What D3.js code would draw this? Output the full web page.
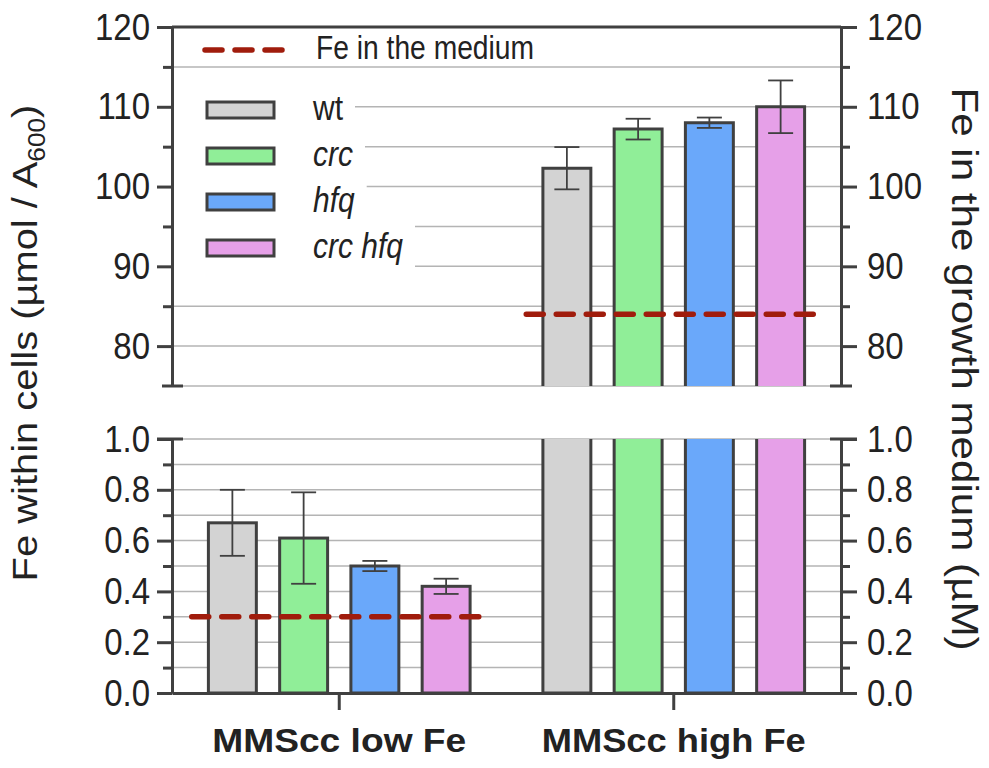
<html>
<head>
<style>
  body { margin: 0; background: #fff; }
  text { font-family: "Liberation Sans", Arial, sans-serif; fill: #222; }
</style>
</head>
<body>
<script src="https://d3js.org/d3.v7.min.js"></script>
<script>
var width = 989, height = 768;
var dark = "#404040", grid = "#b4b4b4", red = "#a01c0c";

// data
var categories = ["MMScc low Fe", "MMScc high Fe"];
var strains = ["wt", "crc", "hfq", "crc hfq"];
var colors = ["#d3d3d3", "#90ee98", "#6aa8fa", "#e6a0e8"];
var lowFe = [0.67, 0.61, 0.50, 0.42];
var lowFeErr = [0.13, 0.18, 0.02, 0.03];
var highFe = [102.3, 107.2, 108.0, 110.0];
var highFeErr = [2.65, 1.3, 0.65, 3.3];
var mediumFe = [0.3, 84];
var topTicks = [80, 90, 100, 110, 120];
var topMinor = [85, 95, 105, 115];
var bottomTicks = [0, 0.2, 0.4, 0.6, 0.8, 1.0];
var bottomMinor = [0.1, 0.3, 0.5, 0.7, 0.9];

var svg = d3.select("body").append("svg")
    .attr("width", width)
    .attr("height", height);

var x = d3.scaleBand().domain(categories).range([172, 841]);
var inner = d3.scaleBand().domain(strains).range([-142.5, 142.5])
    .paddingInner(0.327).paddingOuter(0.1635);
var yTop = d3.scaleLinear().domain([75, 120]).range([386, 27]);
var yBot = d3.scaleLinear().domain([0, 1]).range([693, 439]);
var x0 = x.range()[0], x1 = x.range()[1];

// gridlines
var topGrid = [75].concat(topMinor, topTicks.slice(0, -1));
svg.append("g").selectAll("line").data(topGrid).enter().append("line")
    .attr("x1", x0).attr("x2", x1)
    .attr("y1", d => yTop(d)).attr("y2", d => yTop(d))
    .attr("stroke", grid).attr("stroke-width", 1.5);
var botGrid = bottomMinor.concat(bottomTicks.slice(1));
svg.append("g").selectAll("line").data(botGrid).enter().append("line")
    .attr("x1", x0).attr("x2", x1)
    .attr("y1", d => yBot(d)).attr("y2", d => yBot(d))
    .attr("stroke", grid).attr("stroke-width", 1.5);

// legend (background blocks first, items drawn later)
var legend = svg.append("g");
var legendY = strains.map((s, i) => 110 + i * 46);
var legendBg = legend.append("g");

// bars
var rows = [];
categories.forEach(function(c, ci) {
  var vals = ci == 0 ? lowFe : highFe;
  var errs = ci == 0 ? lowFeErr : highFeErr;
  strains.forEach(function(s, si) {
    rows.push({cat: c, strain: s, color: colors[si], v: vals[si], e: errs[si]});
  });
});

var bars = svg.append("g");
rows.forEach(function(d) {
  var bx = x(d.cat) + x.bandwidth() / 2 + inner(d.strain);
  var bw = inner.bandwidth();
  if (d.v <= 1) {
    var yt = yBot(d.v), yb = yBot(0);
    bars.append("rect").attr("x", bx).attr("y", yt).attr("width", bw).attr("height", yb - yt)
        .attr("fill", d.color).attr("stroke", dark).attr("stroke-width", 3);
  } else {
    // lower panel: full height, open at the top
    var ya = yBot(1), yb2 = yBot(0);
    bars.append("rect").attr("x", bx).attr("y", ya).attr("width", bw).attr("height", yb2 - ya)
        .attr("fill", d.color);
    bars.append("path").attr("d", "M" + bx + "," + ya + "V" + yb2 + "H" + (bx + bw) + "V" + ya)
        .attr("fill", "none").attr("stroke", dark).attr("stroke-width", 3);
    // upper panel: from the break to the value, open at the bottom
    var yt2 = yTop(d.v), yb3 = yTop(75);
    bars.append("rect").attr("x", bx).attr("y", yt2).attr("width", bw).attr("height", yb3 - yt2)
        .attr("fill", d.color);
    bars.append("path").attr("d", "M" + bx + "," + yb3 + "V" + yt2 + "H" + (bx + bw) + "V" + yb3)
        .attr("fill", "none").attr("stroke", dark).attr("stroke-width", 3);
  }
  // error bars
  var yy = d.v <= 1 ? yBot : yTop;
  var cx = bx + bw / 2;
  var eg = bars.append("g").attr("stroke", dark).attr("stroke-width", 1.8);
  eg.append("line").attr("x1", cx).attr("x2", cx).attr("y1", yy(d.v - d.e)).attr("y2", yy(d.v + d.e));
  eg.append("line").attr("x1", cx - 12.5).attr("x2", cx + 12.5).attr("y1", yy(d.v - d.e)).attr("y2", yy(d.v - d.e));
  eg.append("line").attr("x1", cx - 12.5).attr("x2", cx + 12.5).attr("y1", yy(d.v + d.e)).attr("y2", yy(d.v + d.e));
});

// Fe in the medium
categories.forEach(function(c, ci) {
  var cx = x(c) + x.bandwidth() / 2;
  var m = mediumFe[ci];
  var yy = m <= 1 ? yBot(m) : yTop(m);
  svg.append("line")
      .attr("x1", cx + inner.range()[0] - 5).attr("x2", cx + inner.range()[1] + 5)
      .attr("y1", yy).attr("y2", yy)
      .attr("stroke", red).attr("stroke-width", 5.5)
      .attr("stroke-dasharray", "17,13").attr("stroke-linecap", "round");
});

// axes
function styleAxis(g, labels) {
  g.attr("font-size", null).attr("font-family", null);
  g.select(".domain").attr("stroke", dark).attr("stroke-width", 3);
  g.selectAll(".tick line").attr("stroke", dark).attr("stroke-width", 3);
  if (labels) {
    g.selectAll(".tick text").attr("fill", "#222").style("font-size", "33px")
      .attr("transform", "scale(1,1.14)");
  } else {
    g.selectAll(".tick text").remove();
  }
}
var fmtTop = d3.format("d"), fmtBot = d3.format(".1f");

// top panel
svg.append("g").attr("transform", "translate(" + x0 + ",0)")
    .call(d3.axisLeft(yTop).tickValues(topTicks).tickFormat(fmtTop).tickSize(15).tickPadding(7).tickSizeOuter(0))
    .call(g => styleAxis(g, true));
svg.append("g").attr("transform", "translate(" + x0 + ",0)")
    .call(d3.axisLeft(yTop).tickValues(topMinor).tickSize(9).tickSizeOuter(0))
    .call(g => styleAxis(g, false));
svg.append("g").attr("transform", "translate(" + x1 + ",0)")
    .call(d3.axisRight(yTop).tickValues(topTicks).tickFormat(fmtTop).tickSize(16).tickPadding(10).tickSizeOuter(0))
    .call(g => styleAxis(g, true));
svg.append("g").attr("transform", "translate(" + x1 + ",0)")
    .call(d3.axisRight(yTop).tickValues(topMinor).tickSize(9).tickSizeOuter(0))
    .call(g => styleAxis(g, false));

// bottom panel
svg.append("g").attr("transform", "translate(" + x0 + ",0)")
    .call(d3.axisLeft(yBot).tickValues(bottomTicks).tickFormat(fmtBot).tickSize(15).tickPadding(7).tickSizeOuter(0))
    .call(g => styleAxis(g, true));
svg.append("g").attr("transform", "translate(" + x0 + ",0)")
    .call(d3.axisLeft(yBot).tickValues(bottomMinor).tickSize(9).tickSizeOuter(0))
    .call(g => styleAxis(g, false));
svg.append("g").attr("transform", "translate(" + x1 + ",0)")
    .call(d3.axisRight(yBot).tickValues(bottomTicks).tickFormat(fmtBot).tickSize(16).tickPadding(10).tickSizeOuter(0))
    .call(g => styleAxis(g, true));
svg.append("g").attr("transform", "translate(" + x1 + ",0)")
    .call(d3.axisRight(yBot).tickValues(bottomMinor).tickSize(9).tickSizeOuter(0))
    .call(g => styleAxis(g, false));

// top frame line and break marks
svg.append("line").attr("x1", x0).attr("x2", x1).attr("y1", yTop(120)).attr("y2", yTop(120))
    .attr("stroke", dark).attr("stroke-width", 3);
[[yTop(75), 10, 11], [yBot(1), 15, 11]].forEach(function(b) {
  svg.append("line").attr("x1", x0 - b[1]).attr("x2", x0 + b[2]).attr("y1", b[0]).attr("y2", b[0])
      .attr("stroke", dark).attr("stroke-width", 3);
  svg.append("line").attr("x1", x1 - b[2]).attr("x2", x1 + b[1] + 1).attr("y1", b[0]).attr("y2", b[0])
      .attr("stroke", dark).attr("stroke-width", 3);
});

// x axis
var xa = svg.append("g").attr("transform", "translate(0," + yBot(0) + ")")
    .call(d3.axisBottom(x).tickSize(17).tickPadding(0).tickSizeOuter(0));
xa.attr("font-size", null).attr("font-family", null);
xa.select(".domain").attr("stroke", dark).attr("stroke-width", 3);
xa.selectAll(".tick line").attr("stroke", dark).attr("stroke-width", 3);
xa.selectAll(".tick text").attr("y", 59).attr("dy", null)
    .style("font-size", "33px").style("font-weight", "bold").attr("fill", "#000")
    .attr("textLength", (d, i) => i == 0 ? 254 : 264).attr("lengthAdjust", "spacingAndGlyphs");

// axis titles
var lt = svg.append("text").attr("transform", "translate(37,343) rotate(-90) scale(1.14,1)")
    .attr("text-anchor", "middle").style("font-size", "35px").attr("fill", "#111");
lt.append("tspan").text("Fe within cells (µmol / A");
lt.append("tspan").text("600").attr("dy", 8).style("font-size", "23px");
lt.append("tspan").text(")").attr("dy", -8);

svg.append("text").attr("transform", "translate(952,369) rotate(90) scale(1.14,1)")
    .attr("text-anchor", "middle").style("font-size", "37px").attr("fill", "#111")
    .text("Fe in the growth medium (µM)");

// legend items
legend.append("line").attr("x1", 205).attr("x2", 282).attr("y1", 50).attr("y2", 50)
    .attr("stroke", red).attr("stroke-width", 5.5)
    .attr("stroke-dasharray", "17,13").attr("stroke-linecap", "round");
legend.append("text").attr("transform", "translate(316,59) scale(1,1.14)")
    .style("font-size", "29px").attr("textLength", 218).attr("lengthAdjust", "spacingAndGlyphs")
    .text("Fe in the medium");

strains.forEach(function(s, i) {
  var cy = legendY[i];
  var t = legend.append("text").attr("transform", "translate(313," + (cy + 10) + ") scale(1,1.14)")
      .style("font-size", "30px").style("font-style", s == "wt" ? "normal" : "italic")
      .text(s);
  var w = t.node().getComputedTextLength();
  legendBg.append("rect").attr("x", x0 + 2).attr("y", cy - 23).attr("width", 313 + w + 12 - x0 - 2).attr("height", 46)
      .attr("fill", "#fff");
  legend.append("rect").attr("x", 207).attr("y", cy - 8).attr("width", 67).attr("height", 16)
      .attr("fill", colors[i]).attr("stroke", dark).attr("stroke-width", 3);
});
</script>
</body>
</html>
